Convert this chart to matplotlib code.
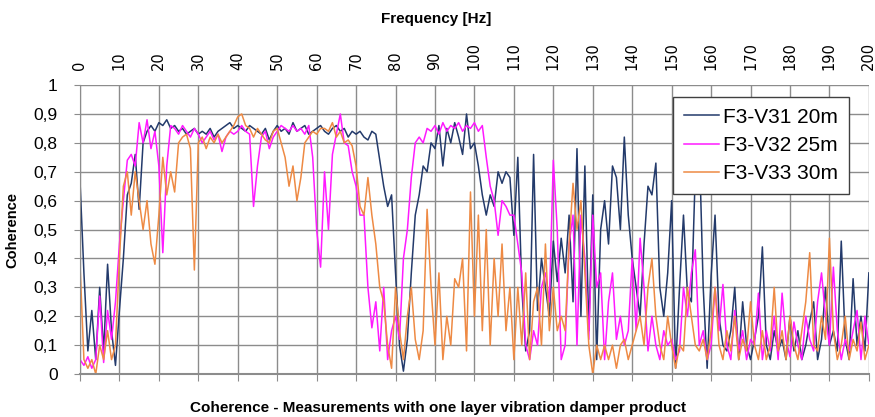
import numpy as np
import matplotlib
matplotlib.use("Agg")
import matplotlib.pyplot as plt
from matplotlib.ticker import FuncFormatter

plt.rcParams['font.family'] = ['Liberation Sans', 'DejaVu Sans']

freq = np.arange(0, 201)

# F3-V31 20m
v31 = [0.67, 0.35, 0.08, 0.22, 0.05, 0.30, 0.08, 0.38, 0.15, 0.03,
       0.22, 0.40, 0.62, 0.66, 0.76, 0.57, 0.80, 0.84, 0.86, 0.84,
       0.87, 0.86, 0.88, 0.85, 0.86, 0.84, 0.85, 0.83, 0.84, 0.85,
       0.83, 0.84, 0.83, 0.85, 0.82, 0.84, 0.85, 0.86, 0.87, 0.85,
       0.86, 0.85, 0.84, 0.86, 0.85, 0.84, 0.83, 0.85, 0.81, 0.84,
       0.86, 0.84, 0.85, 0.83, 0.87, 0.84, 0.85, 0.86, 0.83, 0.84,
       0.85, 0.86, 0.84, 0.83, 0.85, 0.86, 0.84, 0.85, 0.82, 0.84,
       0.83, 0.84, 0.82, 0.81, 0.84, 0.83, 0.74, 0.65, 0.58, 0.62,
       0.35, 0.10, 0.01, 0.12, 0.35, 0.55, 0.62, 0.72, 0.70, 0.80,
       0.78, 0.86, 0.72, 0.85, 0.80, 0.87, 0.82, 0.76, 0.90, 0.78,
       0.80, 0.72, 0.62, 0.55, 0.62, 0.58, 0.70, 0.66, 0.70, 0.68,
       0.48, 0.75, 0.30, 0.08, 0.15, 0.76, 0.22, 0.40, 0.30, 0.20,
       0.46, 0.32, 0.47, 0.35, 0.55, 0.25, 0.78, 0.20, 0.72, 0.15,
       0.62, 0.05, 0.50, 0.60, 0.45, 0.72, 0.68, 0.50, 0.82, 0.55,
       0.40, 0.30, 0.20, 0.45, 0.65, 0.62, 0.73, 0.30, 0.20, 0.35,
       0.60, 0.02, 0.30, 0.55, 0.28, 0.25, 0.70, 0.80, 0.30, 0.02,
       0.34, 0.55, 0.20, 0.10, 0.08, 0.15, 0.30, 0.05, 0.25, 0.10,
       0.05, 0.12, 0.20, 0.44, 0.10, 0.05, 0.15, 0.08, 0.12, 0.05,
       0.20, 0.08, 0.15, 0.05, 0.10, 0.18, 0.25, 0.05, 0.12, 0.30,
       0.10, 0.15, 0.08, 0.46, 0.12, 0.05, 0.33, 0.10, 0.20, 0.08,
       0.35]

# F3-V32 25m
v32 = [0.05, 0.03, 0.06, 0.02, 0.05, 0.27, 0.04, 0.22, 0.12, 0.25,
       0.45, 0.60, 0.74, 0.76, 0.72, 0.87, 0.80, 0.88, 0.78, 0.84,
       0.72, 0.42, 0.72, 0.86, 0.85, 0.83, 0.86, 0.84, 0.82, 0.85,
       0.83, 0.80, 0.82, 0.84, 0.81, 0.83, 0.77, 0.82, 0.84, 0.83,
       0.84, 0.86, 0.84, 0.83, 0.58, 0.72, 0.82, 0.84, 0.78, 0.82,
       0.84, 0.86, 0.85, 0.84, 0.86, 0.84, 0.85, 0.83, 0.86, 0.75,
       0.50, 0.37, 0.70, 0.50, 0.76, 0.83, 0.90, 0.80, 0.79, 0.70,
       0.65, 0.55, 0.55, 0.30, 0.16, 0.25, 0.08, 0.30, 0.05, 0.15,
       0.20, 0.12, 0.40, 0.50, 0.68, 0.80, 0.82, 0.80, 0.85, 0.84,
       0.86, 0.83, 0.87, 0.84, 0.86, 0.85, 0.87, 0.84, 0.86, 0.85,
       0.87, 0.84, 0.86, 0.75, 0.65, 0.60, 0.48, 0.60, 0.58, 0.55,
       0.55, 0.45, 0.35, 0.10, 0.05, 0.15, 0.10, 0.30, 0.35, 0.25,
       0.74, 0.50, 0.05, 0.10, 0.45, 0.55, 0.10, 0.55, 0.40, 0.12,
       0.55, 0.30, 0.35, 0.05, 0.25, 0.35, 0.12, 0.20, 0.10, 0.15,
       0.40, 0.15, 0.47, 0.30, 0.08, 0.20, 0.10, 0.05, 0.15, 0.10,
       0.12, 0.05, 0.08, 0.30, 0.20, 0.35, 0.43, 0.10, 0.15, 0.05,
       0.10, 0.30, 0.15, 0.31, 0.10, 0.05, 0.22, 0.08, 0.15, 0.05,
       0.12, 0.10, 0.28, 0.05, 0.15, 0.08, 0.20, 0.05, 0.28, 0.12,
       0.06, 0.18, 0.10, 0.05, 0.20, 0.12, 0.08, 0.25, 0.35, 0.20,
       0.10, 0.37, 0.15, 0.05, 0.12, 0.08, 0.15, 0.22, 0.05, 0.20,
       0.10]

# F3-V33 30m
v33 = [0.38, 0.05, 0.02, 0.05, 0.00, 0.10, 0.05, 0.15, 0.05, 0.10,
       0.40, 0.65, 0.70, 0.55, 0.70, 0.60, 0.50, 0.60, 0.45, 0.38,
       0.55, 0.75, 0.62, 0.70, 0.63, 0.80, 0.82, 0.83, 0.78, 0.36,
       0.80, 0.82, 0.78, 0.82, 0.80, 0.83, 0.80, 0.82, 0.84, 0.86,
       0.89, 0.90, 0.86, 0.85, 0.82, 0.85, 0.83, 0.81, 0.80, 0.84,
       0.85, 0.80, 0.75, 0.65, 0.72, 0.60, 0.68, 0.80, 0.82, 0.84,
       0.83, 0.85, 0.85, 0.84, 0.87, 0.82, 0.84, 0.80, 0.81, 0.79,
       0.72, 0.58, 0.55, 0.68, 0.55, 0.45, 0.30, 0.25, 0.10, 0.02,
       0.30, 0.15, 0.05, 0.20, 0.30, 0.12, 0.05, 0.15, 0.57, 0.30,
       0.10, 0.35, 0.05, 0.20, 0.10, 0.33, 0.30, 0.40, 0.08, 0.63,
       0.20, 0.55, 0.15, 0.50, 0.10, 0.40, 0.20, 0.45, 0.15, 0.30,
       0.05, 0.30, 0.10, 0.35, 0.05, 0.25, 0.30, 0.10, 0.45, 0.15,
       0.30, 0.15, 0.20, 0.15, 0.45, 0.66, 0.50, 0.60, 0.35, 0.10,
       0.00, 0.10, 0.05, 0.10, 0.05, 0.10, 0.02, 0.10, 0.12, 0.05,
       0.10, 0.15, 0.20, 0.10, 0.30, 0.40, 0.20, 0.10, 0.05, 0.20,
       0.10, 0.02, 0.10, 0.08, 0.30, 0.20, 0.10, 0.08, 0.12, 0.05,
       0.15, 0.30, 0.10, 0.05, 0.15, 0.08, 0.20, 0.05, 0.12, 0.08,
       0.25, 0.10, 0.05, 0.15, 0.05, 0.10, 0.30, 0.08, 0.15, 0.05,
       0.20, 0.10, 0.05, 0.15, 0.25, 0.42, 0.10, 0.08, 0.20, 0.12,
       0.47, 0.15, 0.05, 0.10, 0.20, 0.05, 0.12, 0.08, 0.18, 0.05,
       0.10]

names = ["F3-V31 20m", "F3-V32 25m", "F3-V33 30m"]
colors = ["#233a6b", "#ff1aff", "#ee8a44"]

fig = plt.figure(figsize=(8.75, 4.17), dpi=100)
ax = fig.add_axes([0.0914, 0.103, 0.9016, 0.693])

for vals, name, c in zip([v31, v32, v33], names, colors):
    ax.plot(freq, vals, color=c, lw=1.1, label=name)

ax.set_xlim(0, 200)
ax.set_ylim(0, 1)
ax.set_xticks(np.arange(0, 201, 10))
ax.set_yticks(np.arange(0, 1.01, 0.1))
ax.yaxis.set_major_formatter(FuncFormatter(lambda v, p: ("%.1f" % v).replace(".", ",").replace("0,0", "0").replace("1,0", "1")))
ax.grid(True, color="#8c8c8c", lw=1.0)
ax.set_axisbelow(True)

for s in ["top", "right"]:
    ax.spines[s].set_visible(False)
ax.spines["left"].set_color("#8c8c8c")
ax.spines["bottom"].set_color("#8c8c8c")
ax.spines["bottom"].set_linewidth(1.5)

# ticks at bottom, labels on top
ax.tick_params(axis="x", bottom=True, top=False, labelbottom=False, labeltop=True,
               direction="out", length=5, color="#8c8c8c", labelrotation=90, labelsize=10.5,
               pad=6)
ax.tick_params(axis="y", length=4, color="#8c8c8c", labelsize=12.5, pad=12)
for lab in ax.get_xticklabels():
    lab.set_fontfamily(["DejaVu Sans"])

ax.set_ylabel("Coherence", fontsize=10.5, fontweight="bold", labelpad=10)
fig.text(0.498, 0.955, "Frequency [Hz]", ha="center", va="center", fontsize=11, fontweight="bold")
fig.text(0.5, 0.022, "Coherence - Measurements with one layer vibration damper product",
         ha="center", va="center", fontsize=11, fontweight="bold")

leg = ax.legend(loc="upper left", bbox_to_anchor=(0.752, 0.958), fontsize=15,
                frameon=True, fancybox=False, borderaxespad=0, handlelength=1.7,
                handletextpad=0.2, borderpad=0.5, labelspacing=0.45, framealpha=1)
leg.get_frame().set_edgecolor("#404040")
leg.get_frame().set_linewidth(1.0)

fig.savefig("out.png", dpi=100)
